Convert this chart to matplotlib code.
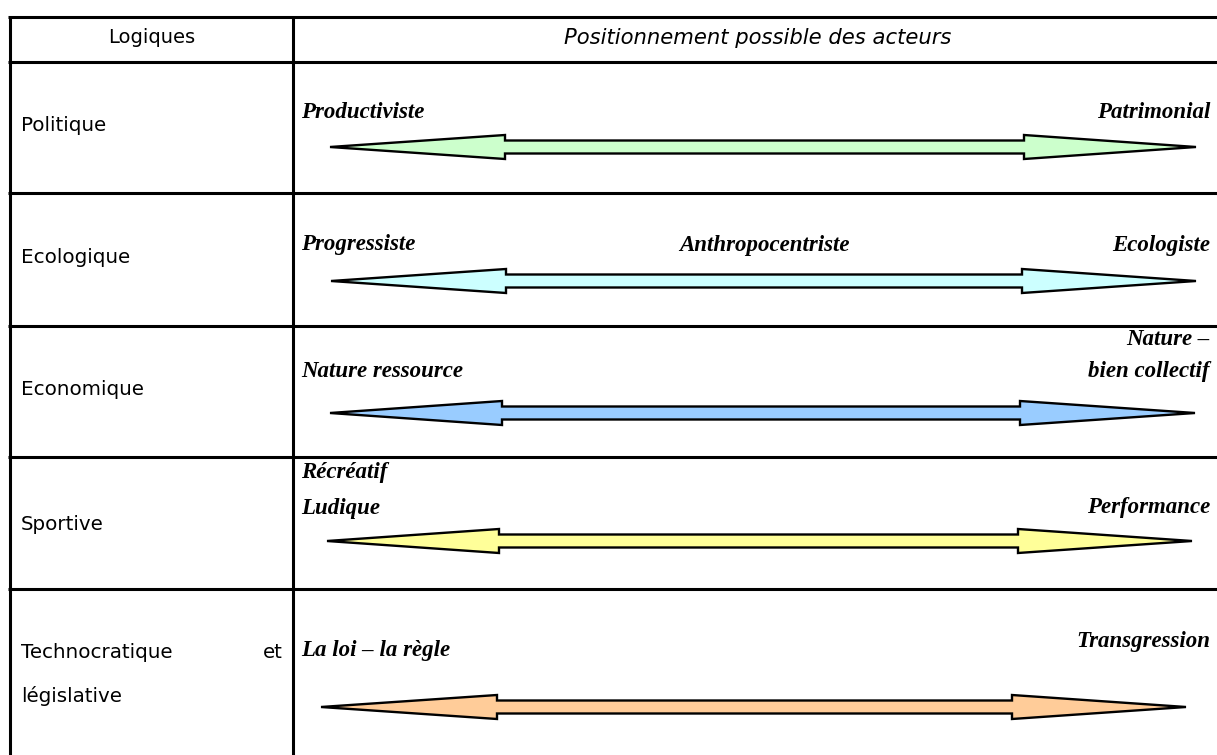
"""Tableau des logiques et positionnement possible des acteurs."""

import matplotlib
matplotlib.use('Agg')
from matplotlib import pyplot as plt


# Table content

header = ['Logiques', 'Positionnement possible des acteurs']
logiques = ['Politique', 'Ecologique', 'Economique', 'Sportive', 'Technocratique']
left_poles = [['Productiviste'], ['Progressiste'], ['Nature ressource'],
              ['Récréatif', 'Ludique'], ['La loi \u2013 la règle']]
middle_poles = ['', 'Anthropocentriste', '', '', '']
right_poles = [['Patrimonial'], ['Ecologiste'], ['Nature \u2013', 'bien collectif'],
               ['Performance'], ['Transgression']]
colors = ['#CCFFCC', '#CCFFFF', '#99CCFF', '#FFFF99', '#FFCC99']

# Layout (pixels)

W, H = 1217, 755
row_y = [17, 62, 193, 326, 457, 589]
x_left, x_div = 10, 293
arrow_y = [147, 281, 413, 541, 707]
arrow_x = [(330, 505, 1024, 1196), (331, 506, 1022, 1196), (330, 502, 1020, 1195),
           (327, 499, 1018, 1192), (321, 497, 1012, 1186)]
left_base = [131, 263, 395, 530, 658]
pole_base = [[118], [250], [377], [478, 514], [656]]
rpole_base = [[118], [251], [345, 377], [513], [647]]

fig = plt.figure(figsize=(W / 100, H / 100), dpi=100)
ax = fig.add_axes([0, 0, 1, 1])
ax.set_xlim(0, W)
ax.set_ylim(H, 0)
ax.axis('off')

lw = 2.2
for y in row_y:
    ax.plot([x_left - 2, W], [y, y], color='black', lw=lw, solid_capstyle='butt')
for x in [x_left, x_div]:
    ax.plot([x, x], [row_y[0], H], color='black', lw=lw, solid_capstyle='butt')

sans = 'DejaVu Sans'
serif = 'Liberation Serif'

ax.text((x_left + x_div) / 2, 43, header[0], ha='center', va='baseline',
        fontsize=14, family=sans)
ax.text(758, 44, header[1], ha='center', va='baseline',
        fontsize=15.2, family=sans, style='italic')

for i, name in enumerate(logiques):
    ax.text(21, left_base[i], name, ha='left', va='baseline', fontsize=14.3, family=sans)
ax.text(283, left_base[4], 'et', ha='right', va='baseline', fontsize=14.3, family=sans)
ax.text(21, 702, 'législative', ha='left', va='baseline', fontsize=14.3, family=sans)

tf = dict(family=serif, fontsize=16.5, weight='bold', style='italic', va='baseline')
for i in range(len(logiques)):
    for lab, yb in zip(left_poles[i], pole_base[i]):
        ax.text(301, yb, lab, ha='left', **tf)
    for lab, yb in zip(right_poles[i], rpole_base[i]):
        ax.text(1210, yb, lab, ha='right', **tf)
    if middle_poles[i]:
        ax.text(764, pole_base[i][0] + 1, middle_poles[i], ha='center', **tf)

# Double-headed arrows

hh, sh = 12, 6.5
for i, y in enumerate(arrow_y):
    xl, bl, br, xr = arrow_x[i]
    xs = [xl, bl, bl, br, br, xr, br, br, bl, bl]
    ys = [y, y - hh, y - sh, y - sh, y - hh, y, y + hh, y + sh, y + sh, y + hh]
    ax.fill(xs, ys, facecolor=colors[i], edgecolor='black', lw=1.7, joinstyle='miter')

fig.savefig('out.png', dpi=100)
